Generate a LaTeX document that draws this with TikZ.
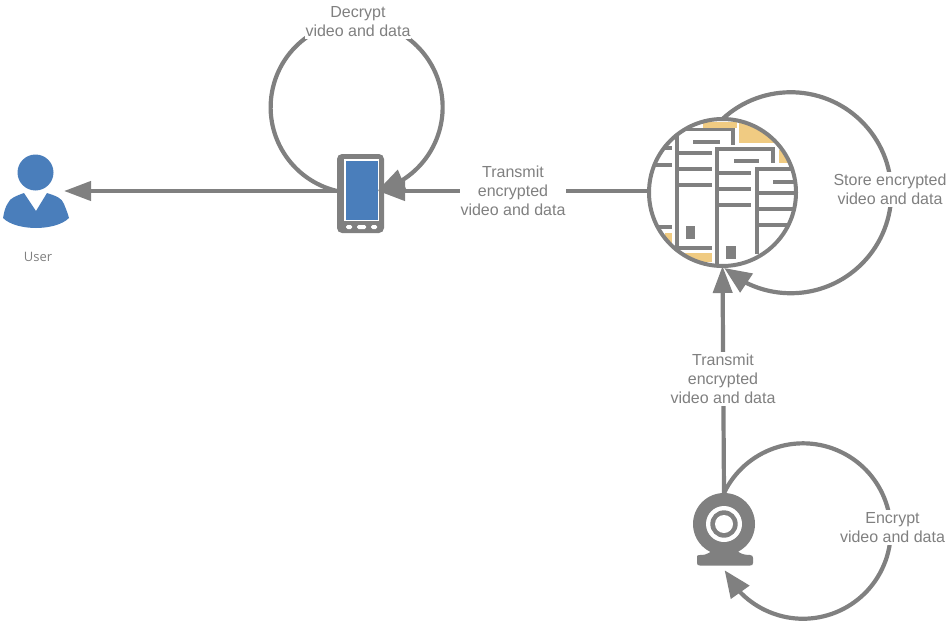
\documentclass[tikz,border=0pt]{standalone}
\usepackage{fontspec}
\setmainfont{Liberation Sans}
\newfontfamily\userfont{Open Sans}
\usetikzlibrary{arrows.meta,bending}
\definecolor{gr}{HTML}{808080}
\definecolor{bluefill}{HTML}{4A7EBB}
\definecolor{orangefill}{HTML}{F0CB82}
\tikzset{
  link/.style={draw=gr,line width=4.2pt,-{Triangle[length=27pt,width=19pt]}},
  bentlink/.style={draw=gr,line width=4.2pt,-{Triangle[length=27pt,width=22pt,flex=1]}},
  lab/.style={fill=white,inner xsep=1pt,inner ysep=2pt,align=center,text=gr,font=\fontsize{16}{19}\selectfont},
  sheet/.style={draw=gr,line width=3.1pt},
}
\begin{document}
\begin{tikzpicture}[x=1pt,y=-1pt]
\useasboundingbox (0,0) rectangle (952,623);
% server interior
\begin{scope}
\clip (722.5,192.5) circle[radius=73pt];
\fill[orangefill] (739,122) rectangle (790,143);
\fill[orangefill] (703,122) rectangle (737,128);
\fill[orangefill] (779,150) rectangle (790,163);
\fill[orangefill] (680,253) rectangle (712,262);
\fill[orangefill] (665,233) rectangle (672,245);
% left sheet
\draw[sheet] (650,148) -- (672,148) (650,165) -- (672,165) (650,227) -- (672,227);
% sheet 1
\draw[sheet] (677,250) -- (677,129.5) -- (733,129.5) -- (733,145);
\draw[sheet] (693,142) -- (720,142) (678,153) -- (712,153) (678,169) -- (712,169) (678,185) -- (712,185) (678,248) -- (712,248);
\fill[gr] (686,226) rectangle (695,239);
% sheet 2
\draw[sheet] (717,264) -- (717,149) -- (773,149) -- (773,163);
\draw[sheet] (734,161) -- (759,161) (718,173) -- (751,173) (718,189) -- (751,189) (718,205) -- (751,205);
\fill[gr] (726,246) rectangle (736,259);
% sheet 3
\draw[sheet] (757,254) -- (757,169) -- (800,169);
\draw[sheet] (773,182) -- (800,182) (757,193) -- (800,193) (757,209) -- (800,209) (757,225) -- (800,225);
\end{scope}
\node[circle,draw=gr,line width=4pt,minimum size=147pt,inner sep=0pt,outer sep=0pt] (server) at (722.5,192.5) {};
% phone
\node[draw=none,fill=gr,rounded corners=5pt,minimum width=47pt,minimum height=79pt,inner sep=0pt,outer sep=0pt] (phone) at (360.5,193.5) {};
\fill[white] (344,159) rectangle (379,221);
\fill[bluefill] (345.5,160.5) rectangle (377.5,219.5);
\fill[white,rounded corners=1.5pt] (346,225) rectangle (352,229);
\fill[white,rounded corners=1.5pt] (357,225) rectangle (366,229);
\fill[white,rounded corners=1.5pt] (371,225) rectangle (377,229);
% user
\fill[bluefill] (35.5,172.5) circle[radius=18pt];
\fill[bluefill] (24,193) -- (36,211) -- (47,193) .. controls (56,196) and (62,198) .. (64,204) .. controls (66,209) and (68,214) .. (69,218) .. controls (62,225) and (48,228) .. (36,228) .. controls (24,228) and (10,225) .. (3,218) .. controls (4,213) and (5,207) .. (8,203) .. controls (10,198) and (16,196) .. (24,193) -- cycle;
\node[text=gr,font=\userfont\fontsize{13}{15}\selectfont,inner sep=0pt] (user) at (38,257) {User};
% camera
\node[circle,fill=gr,minimum size=62pt,inner sep=0pt,outer sep=0pt] (cam) at (724,524) {};
\fill[gr] (713,545) .. controls (713,552) and (708,555) .. (700,555) -- (699,555) .. controls (697,555) and (697,556) .. (697,558) -- (697,563) .. controls (697,565) and (698,565.5) .. (700,565.5) -- (750,565.5) .. controls (752,565.5) and (753,565) .. (753,563) -- (753,558) .. controls (753,556) and (752,555) .. (750,555) .. controls (742,555) and (735,552) .. (735,545) -- cycle;
\fill[white] (724,524) circle[radius=18pt];
\fill[gr] (724,524) circle[radius=13.7pt];
\fill[white] (724,524) circle[radius=9pt];
% connector end points
\coordinate (usertip) at (64,191);
\coordinate (phoneL) at (337,191);
\coordinate (phoneR) at (378,191);
\coordinate (serverL) at (649,191);
% connectors
\draw[link] (phoneL) -- (usertip);
\draw[link] (serverL) -- (phoneR);
\draw[link] (cam.north) -- (server.south);
\draw[draw=gr,line width=4.2pt,-{Triangle[length=27pt,width=22pt]}] (phoneL) arc[start angle=-103.2,end angle=-436,radius=86pt];
\draw[bentlink] (server.north) arc[start angle=-227.2,end angle=-491.5,radius=100.5pt];
\draw[bentlink] (cam.north) arc[start angle=-205.7,end angle=-513.4,radius=87.7pt];
% labels
\node[lab] (ldec) at (358,21.5) {Decrypt\\video and data};
\node[lab] (ltr1) at (513,191) {Transmit\\encrypted\\video and data};
\node[lab] (lsto) at (890,189.5) {Store encrypted\\video and data};
\node[lab] (ltr2) at (723,379) {Transmit\\encrypted\\video and data};
\node[lab] (lenc) at (892.5,527.5) {Encrypt\\video and data};
\end{tikzpicture}
\end{document}
